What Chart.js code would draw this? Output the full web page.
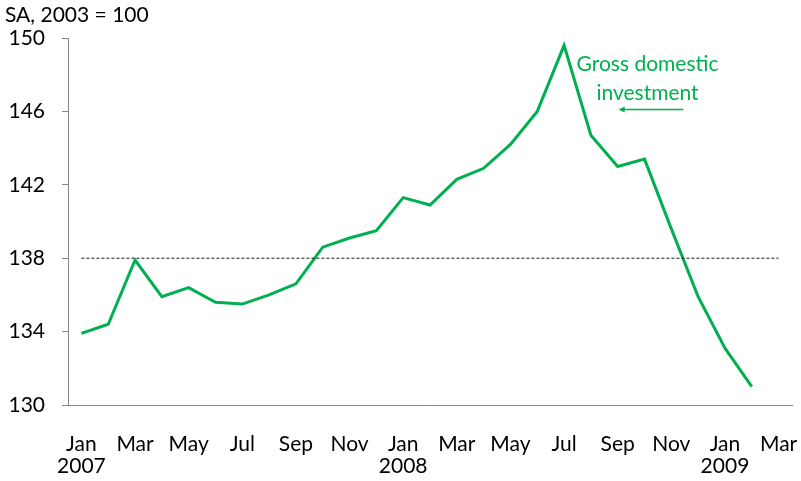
<!DOCTYPE html>
<html>
<head>
<meta charset="utf-8">
<script src="https://cdn.jsdelivr.net/npm/chart.js@4/dist/chart.umd.min.js"></script>
<style>
  html, body { margin: 0; padding: 0; background: #fff; }
  #wrap { width: 801px; height: 481px; }
</style>
</head>
<body>
<div id="wrap"><canvas id="chart" width="801" height="481"></canvas></div>
<script>
// Months Jan 2007 .. Mar 2009
const months = ['Jan', 'Feb', 'Mar', 'Apr', 'May', 'Jun', 'Jul', 'Aug', 'Sep', 'Oct', 'Nov', 'Dec',
                'Jan', 'Feb', 'Mar', 'Apr', 'May', 'Jun', 'Jul', 'Aug', 'Sep', 'Oct', 'Nov', 'Dec',
                'Jan', 'Feb', 'Mar'];
const yearLabels = { 0: '2007', 12: '2008', 24: '2009' };

// Gross domestic investment, SA 2003 = 100 (Jan 2007 .. Feb 2009)
const investment = [133.9, 134.4, 137.9, 135.9, 136.4, 135.6, 135.5, 136.0, 136.6, 138.6, 139.1, 139.5,
                    141.3, 140.9, 142.3, 142.9, 144.2, 146.0, 149.6, 144.7, 143.0, 143.4, 139.6, 135.9,
                    133.1, 131.0, null];
const referenceLevel = 138;
const referenceLine = months.map(() => referenceLevel);

const yTicks = { min: 130, max: 150, step: 4 };

const unitLabel = 'SA, 2003 = 100';
const seriesNote = ['Gross domestic', 'investment'];

const GREEN = '#00B050';
const AXIS = '#868686';
const FONT = 'Lato';
const FONT_SIZE = 21;

// Text label and arrow drawn on top of the chart
const notes = {
    id: 'notes',
    afterDraw(chart) {
        const ctx = chart.ctx;
        const xs = chart.scales.x;
        const ys = chart.scales.y;
        ctx.save();
        ctx.font = FONT_SIZE + 'px ' + FONT;
        ctx.fillStyle = '#000';
        ctx.textAlign = 'left';
        ctx.textBaseline = 'middle';
        ctx.fillText(unitLabel, 5, 15);

        ctx.fillStyle = GREEN;
        ctx.textAlign = 'center';
        const cx = xs.getPixelForValue(21) + 3;
        ctx.fillText(seriesNote[0], cx, ys.getPixelForValue(148.55));
        ctx.fillText(seriesNote[1], cx, ys.getPixelForValue(147.0));

        // arrow pointing left
        const ay = ys.getPixelForValue(146.1);
        const x0 = xs.getPixelForValue(22) + 12;
        const x1 = xs.getPixelForValue(20) + 1;
        ctx.strokeStyle = GREEN;
        ctx.lineWidth = 1.5;
        ctx.beginPath();
        ctx.moveTo(x0, ay);
        ctx.lineTo(x1 + 4, ay);
        ctx.stroke();
        ctx.beginPath();
        ctx.moveTo(x1, ay);
        ctx.lineTo(x1 + 6, ay - 3);
        ctx.lineTo(x1 + 6, ay + 3);
        ctx.closePath();
        ctx.fill();
        ctx.restore();
    }
};

const ctx = document.getElementById('chart').getContext('2d');
new Chart(ctx, {
    type: 'line',
    data: {
        labels: months,
        datasets: [{
            label: 'Gross domestic investment',
            data: investment,
            borderColor: GREEN,
            borderWidth: 3,
            pointRadius: 0,
            tension: 0,
            order: 2
        }, {
            label: 'Reference',
            data: referenceLine,
            borderColor: '#1a1a1a',
            borderWidth: 1,
            borderDash: [3, 2],
            pointRadius: 0,
            order: 1
        }]
    },
    options: {
        responsive: false,
        animation: false,
        layout: { padding: { left: 0, right: 9, top: 38, bottom: 0 } },
        plugins: {
            legend: { display: false },
            tooltip: { enabled: false }
        },
        scales: {
            x: {
                offset: true,
                grid: { display: true, drawOnChartArea: false, drawTicks: false, offset: true },
                border: { color: AXIS, width: 1 },
                ticks: {
                    autoSkip: false,
                    maxRotation: 0,
                    padding: 28,
                    color: '#000',
                    font: { family: FONT, size: FONT_SIZE, lineHeight: 1.05 },
                    callback: function(value, index) {
                        if (index % 2 !== 0) return '';
                        return yearLabels[index] ? [months[index], yearLabels[index]] : months[index];
                    }
                },
                afterFit: function(scale) {
                    scale.height = 76;
                    scale.paddingLeft = 0;
                    scale.paddingRight = 0;
                }
            },
            y: {
                min: yTicks.min,
                max: yTicks.max,
                grid: { drawOnChartArea: false, tickLength: 6, color: AXIS },
                border: { color: AXIS, width: 1 },
                ticks: {
                    stepSize: yTicks.step,
                    padding: 17,
                    color: '#000',
                    font: { family: FONT, size: FONT_SIZE }
                },
                afterFit: function(scale) {
                    scale.width = 68;
                    scale.paddingTop = 0;
                    scale.paddingBottom = 0;
                }
            }
        }
    },
    plugins: [notes]
});
</script>
</body>
</html>
